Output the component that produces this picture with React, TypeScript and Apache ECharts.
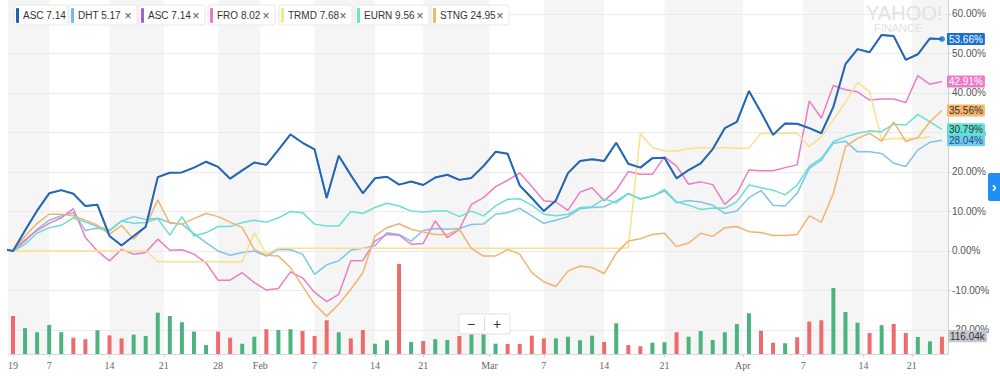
import React, { useEffect, useRef } from "react";
import * as echarts from "echarts";

// Legend chips
const tickerNames = ["ASC", "DHT", "ASC", "FRO", "TRMD", "EURN", "STNG"];
const tickerPrices = ["7.14", "5.17", "7.14", "8.02", "7.68", "9.56", "24.95"];

// x: trading-day index, 0 = 2019-01-02 ... 77 = 2019-04-24
const xTickPositions = [0, 3, 8, 12.5, 17, 20.5, 25, 30, 34, 39.5, 44, 49, 54, 60.5, 65.5, 70.5, 74.5];
const xTickLabels = ["19", "7", "14", "21", "28", "Feb", "7", "14", "21", "Mar", "7", "14", "21", "Apr", "7", "14", "21"];
const yTicks = [-20, -10, 0, 10, 20, 30, 40, 50, 60];

// % change series
const ascPrevClose = 0.6; // 2018-12-31, index -1
const asc = [
  0, 5.2, 10.2, 14.6, 15.4, 14.5, 11.4, 11.7, 3.8, 1.4,
  3.8, 6.1, 18.7, 19.8, 19.9, 21.1, 22.6, 21.3, 18.3, 20.4,
  22.4, 21.8, 25.6, 29.5, 27.4, 25.7, 13.4, 24.1, 19.2, 14.6,
  18.4, 18.8, 16.8, 17.6, 16.7, 18.6, 19.3, 18.0, 18.5, 21.5,
  25.1, 24.6, 16.6, 13.4, 10.1, 12.8, 19.7, 22.8, 23.2, 22.8,
  27.4, 22.1, 21.1, 23.5, 23.6, 18.4, 20.5, 22.2, 25.8, 31.1,
  32.7, 40.5, 35.1, 29.4, 32.3, 32.2, 31.1, 29.8, 36.5, 47.3,
  51.1, 50.3, 54.7, 54.4, 48.4, 49.8, 53.8, 53.66,
];
const dht = [
  0, 2.5, 5.5, 7.8, 8.9, 9.7, 5.2, 5.8, 5.1, 7.6,
  8.7, 8.0, 8.3, 7.2, 6.8, 4.4, 2.1, 0, -1.1, -0.4,
  0, -1.3, 0.4, 0.3, -0.8, -5.9, -3.5, -2.5, 0.2, 0.7,
  1.3, 4.6, 4.2, 2.5, 5.2, 5.7, 5.5, 5.7, 6.7, 6.8,
  9.3, 9.7, 10.8, 8.9, 7.0, 7.8, 8.7, 10.7, 11.0, 11.2,
  12.7, 14.6, 13.1, 13.9, 15.2, 12.2, 12.8, 12.4, 11.6, 9.5,
  10.1, 13.5, 15.3, 11.6, 11.4, 14.6, 20.9, 23.0, 27.3, 27.8,
  25.1, 25.1, 24.7, 22.2, 21.4, 25.6, 27.5, 28.04,
];
const fro = [
  0, 2.8, 5.2, 7.0, 8.4, 10.7, 3.4, 0, -2.5, 0.4,
  -0.8, -0.4, 3.0, 0.2, 0.3, -0.8, -3.0, -7.4, -7.4, -5.5,
  -8.0, -9.9, -9.5, -5.3, -6.8, -10.5, -12.8, -11.0, -2.5, -2.4,
  2.5, 4.2, 4.0, 1.7, 1.9, 7.6, 3.4, 5.5, 11.8, 13.5,
  16.3, 17.9, 19.8, 16.3, 12.7, 12.4, 10.3, 14.9, 16.0, 12.7,
  15.4, 20.1, 19.4, 19.4, 23.9, 21.5, 16.9, 17.5, 16.8, 11.8,
  14.6, 20.5, 20.3, 20.3, 21.1, 21.8, 38.0, 33.6, 41.9, 40.8,
  40.3, 38.2, 38.5, 38.5, 37.6, 44.4, 42.2, 42.91,
];
const trmd = [
  0, 0, 0, 0, 0, 0, 0, 0, 0, 0,
  0, 0, -2.7, -2.7, -2.7, -2.7, -2.7, -2.7, -2.7, -2.7,
  4.6, -0.8, 0.7, 0.7, 0.7, 0.7, 0.7, 0.7, 0.7, 0.7,
  0.7, 0.7, 0.7, 0.7, 0.7, 0.7, 0.7, 0.7, 0.7, 0.7,
  0.7, 0.7, 0.7, 0.7, 0.7, 0.7, 0.7, 0.7, 0.7, 0.7,
  0.7, 0.8, 29.7, 26.2, 25.3, 25.3, 25.9, 26.2, 26.0, 26.2,
  26.0, 26.0, 29.8, 29.8, 29.8, 29.8, 26.4, 28.9, 33.2, 37.6,
  42.7, 40.3, 28.1, 28.5, 28.5, 28.5, 28.9,
];
const eurn = [
  0, 1.7, 4.5, 5.9, 6.5, 8.4, 7.3, 6.2, 5.3, 7.6,
  7.0, 7.2, 8.2, 4.0, 8.7, 3.8, 4.6, 6.2, 6.2, 7.2,
  7.8, 7.3, 8.4, 10.0, 9.7, 6.8, 6.3, 6.3, 10.0, 9.5,
  11.0, 12.1, 11.4, 10.1, 9.9, 10.1, 10.1, 8.7, 10.1, 8.9,
  11.4, 13.1, 13.2, 11.6, 9.3, 8.9, 9.3, 11.0, 11.2, 13.2,
  12.2, 14.5, 13.2, 13.9, 15.6, 12.4, 11.6, 10.5, 10.9, 10.8,
  12.5, 16.7, 16.0, 15.4, 14.2, 16.7, 21.4, 23.5, 27.7, 28.9,
  29.8, 30.4, 30.2, 32.1, 31.9, 34.6, 32.7, 30.79,
];
const stng = [
  0, 3.8, 7.0, 9.3, 9.3, 8.9, 7.8, 6.5, 4.2, 6.5,
  3.0, 6.3, 12.9, 7.0, 6.8, 8.2, 9.5, 8.7, 7.3, 5.9,
  0.4, -1.1, -1.3, -4.2, -8.9, -13.5, -16.5, -13.5, -9.7, -5.5,
  3.8, 5.9, 6.9, 5.5, 4.8, 4.2, 4.2, 5.5, 0.6, -1.3,
  -1.3, 0.4, -0.8, -5.5, -7.8, -9.0, -5.1, -3.8, -4.2, -5.7,
  -0.6, 2.5, 3.1, 4.2, 4.5, 1.1, 2.0, 4.5, 3.7, 5.9,
  6.2, 4.9, 4.7, 3.9, 3.9, 4.2, 8.9, 7.3, 14.6, 26.4,
  28.5, 29.8, 27.8, 32.7, 27.7, 28.7, 32.7, 35.56,
];
// ASC volume, thousands of shares
const volumeK = [
  255, 174, 146, 195, 146, 109, 99, 159, 125, 105,
  130, 121, 277, 255, 213, 150, 60, 150, 109, 69,
  116, 166, 161, 166, 154, 121, 226, 146, 105, 161,
  69, 92, 604, 81, 87, 99, 94, 121, 152, 152,
  69, 67, 67, 123, 105, 105, 116, 92, 123, 81,
  206, 60, 52, 76, 79, 146, 116, 154, 94, 146,
  201, 273, 156, 76, 72, 112, 217, 226, 443, 282,
  210, 141, 193, 201, 141, 114, 85, 116.04,
];

const GREEN = "#4cb37f";
const RED = "#ee6b6b";
const SANS = "Liberation Sans, Arial, sans-serif";

const X_MIN = -0.414;
const X_MAX = 77.5;

function pairs(arr: (number | null)[]) {
  const out: any[] = [];
  arr.forEach((v, i) => {
    if (v != null) out.push([i, v]);
  });
  return out;
}

function withZ(el: any, z: number): any {
  const copy = { ...el, z };
  if (el.children) copy.children = el.children.map((c: any) => withZ(c, z));
  return copy;
}

function buildOption() {
  const edges = [X_MIN, ...xTickPositions.slice(1), X_MAX];
  const bands: any[] = [];
  for (let k = 0; k < edges.length - 1; k += 2) {
    bands.push([{ xAxis: edges[k] }, { xAxis: edges[k + 1] }]);
  }

  const lineSeries = (
    name: string,
    values: number[],
    color: string,
    width: number,
    label: null | { bg: string; fg: string },
    z: number,
    extra: any[] = []
  ) => ({
    type: "line",
    name,
    data: [...extra, ...pairs(values)],
    showSymbol: false,
    symbol: "none",
    lineStyle: { color, width },
    itemStyle: { color },
    z,
    endLabel: label
      ? {
          show: true,
          formatter: (p: any) => Number(p.value[1]).toFixed(2) + "%",
          backgroundColor: label.bg,
          color: label.fg,
          fontSize: 10,
          fontFamily: SANS,
          padding: [1, 2, 1, 2],
          borderRadius: 1,
          distance: 5,
        }
      : { show: false },
  });

  const chipX = [14, 69, 139, 208, 279, 355, 431];
  const chipW = [54, 68, 66, 67, 73, 74, 78];
  const chipColors = ["#1b64b3", "#71bde9", "#9a63e0", "#ea78c6", "#fde28c", "#6ae3d3", "#f4b36f"];
  const chips = tickerNames.map((n, k) => {
    const children: any[] = [
      {
        type: "rect",
        shape: { x: 0, y: 0, width: chipW[k], height: 20, r: 2 },
        style: { fill: "#fff", stroke: "#e8e8e8", lineWidth: 1 },
      },
      {
        type: "rect",
        shape: { x: 2, y: 3, width: 3, height: 15, r: 1 },
        style: { fill: chipColors[k] },
      },
      {
        type: "text",
        x: 9,
        y: 10.5,
        style: { text: n + " " + tickerPrices[k], fill: "#333", font: "10px " + SANS, verticalAlign: "middle" },
      },
    ];
    if (k > 0) {
      children.push({
        type: "text",
        x: chipW[k] - 9,
        y: 10.5,
        style: { text: "×", fill: "#555", font: "12px " + SANS, align: "center", verticalAlign: "middle" },
      });
    }
    return withZ({ type: "group", x: chipX[k], y: 5, children }, 100);
  });

  return {
    animation: false,
    backgroundColor: "#fff",
    grid: { left: 8, right: 52, top: 0, bottom: 38, containLabel: false },
    xAxis: {
      type: "value",
      min: X_MIN,
      max: X_MAX,
      axisLine: { show: true, onZero: false, lineStyle: { color: "#d8d8d8" } },
      axisTick: { show: true, customValues: xTickPositions, length: 3, lineStyle: { color: "#cfcfcf" } },
      axisLabel: {
        customValues: xTickPositions,
        formatter: (v: number) => {
          const k = xTickPositions.indexOf(v);
          return k >= 0 ? xTickLabels[k] : "";
        },
        fontFamily: "Liberation Serif, Times New Roman, serif",
        fontSize: 10,
        color: "#666",
        margin: 6,
      },
      splitLine: { show: false },
    },
    yAxis: [
      {
        type: "value",
        position: "right",
        min: -26.08,
        max: 63.54,
        axisLine: { show: true, onZero: false, lineStyle: { color: "#d0d0d0" } },
        axisTick: { show: true, customValues: yTicks, length: 3, lineStyle: { color: "#d0d0d0" } },
        axisLabel: {
          customValues: yTicks,
          formatter: (v: number) => v.toFixed(2) + "%",
          color: "#555",
          fontSize: 10,
          fontFamily: SANS,
          margin: 4,
        },
        splitLine: { show: true, lineStyle: { color: "#ebebeb", width: 1 } },
      },
      {
        type: "value",
        position: "left",
        min: 0,
        max: 2374,
        show: false,
        axisLine: { onZero: false },
        splitLine: { show: false },
      },
    ],
    series: [
      {
        type: "line",
        name: "bands",
        data: [],
        z: -1,
        silent: true,
        markArea: { silent: true, z: -1, itemStyle: { color: "#f5f5f5" }, label: { show: false }, data: bands },
      },
      {
        type: "bar",
        name: "Volume",
        yAxisIndex: 1,
        barWidth: 4,
        z: 1,
        data: volumeK.map((v, i) => {
          const prev = i === 0 ? ascPrevClose : asc[i - 1];
          const item: any = { value: [i, v], itemStyle: { color: asc[i] >= prev ? GREEN : RED } };
          if (i === volumeK.length - 1) {
            item.label = {
              show: true,
              position: "right",
              distance: 4,
              offset: [0, -9],
              formatter: (p: any) => Number(p.value[1]).toFixed(2) + "k",
              backgroundColor: "#c3c7ce",
              color: "#333",
              fontSize: 10,
              fontFamily: SANS,
              padding: [1, 2, 1, 2],
            };
          }
          return item;
        }),
      },
      lineSeries("DHT", dht, "#7fc4ea", 1.5, { bg: "#74caf0", fg: "#1d4f7a" }, 3),
      lineSeries("ASC ", asc, "#9b6de0", 1.5, null, 3, [[-1, ascPrevClose]]),
      lineSeries("FRO", fro, "#ea7ec6", 1.5, { bg: "#ee7ac9", fg: "#fff" }, 3),
      lineSeries("TRMD", trmd, "#fbe08c", 1.5, null, 3),
      lineSeries("EURN", eurn, "#6adfcf", 1.5, { bg: "#5fe2cf", fg: "#333" }, 3),
      lineSeries("STNG", stng, "#f3b36e", 1.5, { bg: "#f6b66d", fg: "#333" }, 3),
      lineSeries("ASC", asc, "#2169b3", 2, { bg: "#1a6fd4", fg: "#fff" }, 4, [[-1, ascPrevClose]]),
      {
        type: "scatter",
        name: "ASC last",
        data: [[asc.length - 1, asc[asc.length - 1]]],
        symbol: "circle",
        symbolSize: 6,
        itemStyle: { color: "#1a6fd4" },
        z: 5,
      },
    ],
    graphic: [
      ...chips,
      withZ({ type: "text", x: 866, y: 3, style: { text: "YAHOO!", fill: "#e2e2e2", font: "20px " + SANS } }, 2),
      withZ({ type: "text", x: 874, y: 22, style: { text: "FINANCE", fill: "#e2e2e2", font: "11px " + SANS } }, 2),
      withZ(
        {
          type: "group",
          x: 459,
          y: 314,
          children: [
            {
              type: "rect",
              shape: { x: 0, y: 0, width: 51, height: 20, r: 2 },
              style: { fill: "#fff", stroke: "#e2e2e2", lineWidth: 1 },
            },
            { type: "line", shape: { x1: 25.5, y1: 3, x2: 25.5, y2: 17 }, style: { stroke: "#ddd", lineWidth: 1 } },
            {
              type: "text",
              x: 12,
              y: 10,
              style: { text: "−", fill: "#333", font: "14px " + SANS, align: "center", verticalAlign: "middle" },
            },
            {
              type: "text",
              x: 38,
              y: 10,
              style: { text: "+", fill: "#333", font: "14px " + SANS, align: "center", verticalAlign: "middle" },
            },
          ],
        },
        100
      ),
      withZ(
        {
          type: "group",
          x: 988,
          y: 173,
          children: [
            { type: "rect", shape: { x: 0, y: 0, width: 14, height: 28, r: 2 }, style: { fill: "#1f8ff5" } },
            {
              type: "text",
              x: 6,
              y: 14,
              style: { text: "›", fill: "#fff", font: "bold 14px " + SANS, align: "center", verticalAlign: "middle" },
            },
          ],
        },
        100
      ),
    ],
  };
}

export default function App() {
  const ref = useRef<HTMLDivElement>(null);
  useEffect(() => {
    if (!ref.current) return;
    const chart = echarts.init(ref.current, null, { renderer: "svg" });
    chart.setOption(buildOption() as any);
    return () => chart.dispose();
  }, []);
  return (
    <div
      ref={ref}
      style={{ position: "fixed", left: 0, top: 0, width: 1000, height: 392, background: "#fff" }}
    />
  );
}
